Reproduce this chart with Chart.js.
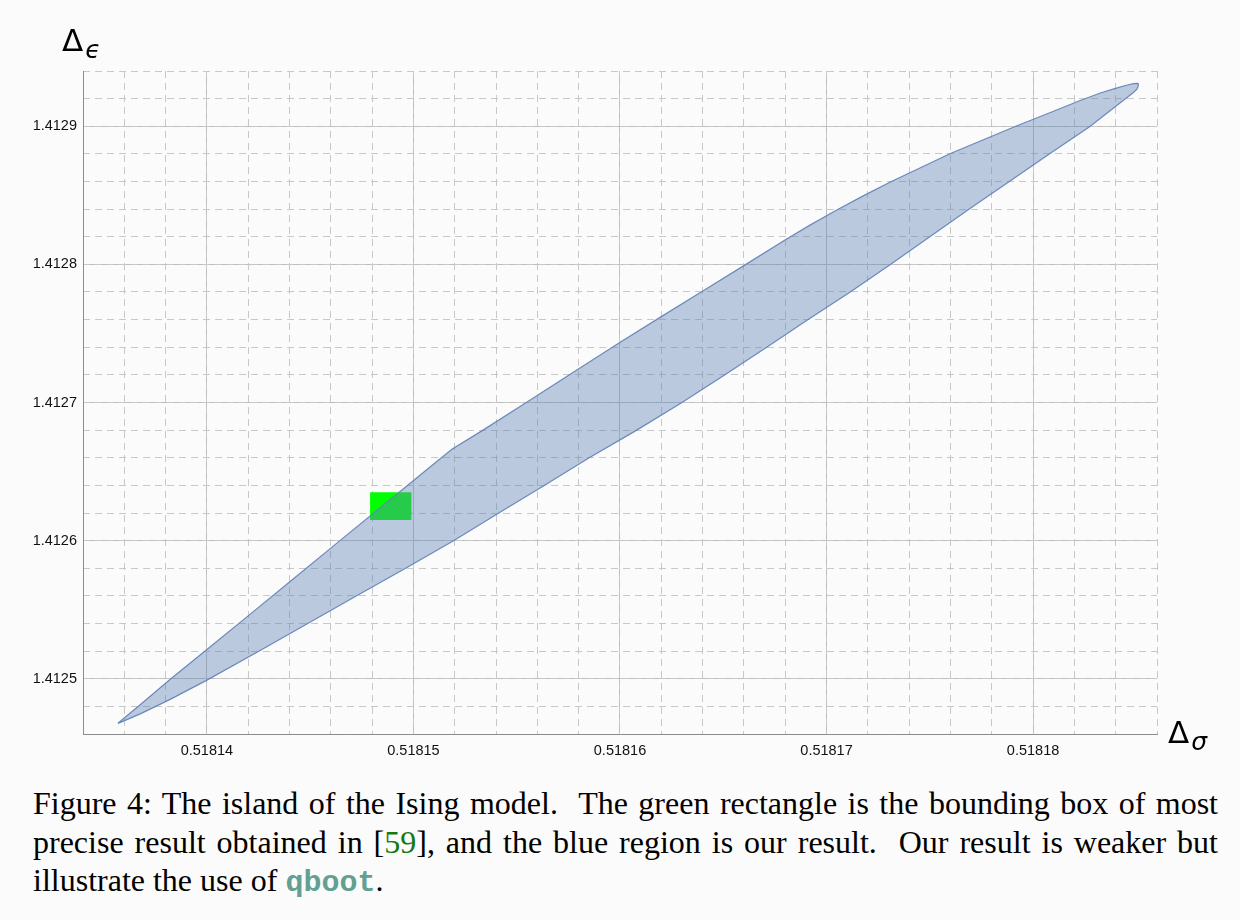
<!DOCTYPE html>
<html>
<head>
<meta charset="utf-8">
<script src="https://cdn.jsdelivr.net/npm/chart.js@4/dist/chart.umd.min.js"></script>
<style>
  html, body { margin: 0; padding: 0; background: #fbfbfb; }
  #wrap { position: relative; width: 1240px; height: 920px; overflow: hidden; }
  #plot { position: absolute; left: 0; top: 0; }
  .axtitle {
    position: absolute; font-family: "DejaVu Sans", "Open Sans", sans-serif;
    font-size: 31px; line-height: 1; color: #000; white-space: nowrap;
  }
  .axtitle .sub { font-style: italic; font-size: 25px; position: relative; top: 7px; margin-left: 2px; }
  #caption {
    position: absolute; left: 33px; top: 784px; width: 1185px;
    font-family: "Liberation Serif", "Times New Roman", serif;
    font-size: 32px; line-height: 38.7px; color: #000;
  }
  .jl { text-align: justify; text-align-last: justify; white-space: nowrap; }
  .ref { color: #137a13; }
  .code { font-family: "Liberation Mono", "Courier New", monospace; font-size: 30px; color: #62a092; font-weight: bold; }
</style>
</head>
<body>
<div id="wrap">
  <canvas id="plot" width="1240" height="770"></canvas>
  <div class="axtitle" style="left:62px; top:25px;">Δ<span class="sub">ϵ</span></div>
  <div class="axtitle" style="left:1168px; top:717px;">Δ<span class="sub">σ</span></div>
  <div id="caption">
    <div class="jl">Figure 4: The island of the Ising model.&nbsp; The green rectangle is the bounding box of most</div>
    <div class="jl">precise result obtained in [<span class="ref">59</span>], and the blue region is our result.&nbsp; Our result is weaker but</div>
    <div>illustrate the use of <span class="code">qboot</span>.</div>
  </div>
</div>
<script>
// Axis ranges and labelled ticks
const xRange = [0.518134, 0.518186];
const yRange = [1.41246, 1.41294];
const xMajorTicks = [0.51814, 0.51815, 0.51816, 0.51817, 0.51818];
const xTickLabels = ['0.51814', '0.51815', '0.51816', '0.51817', '0.51818'];
const yMajorTicks = [1.4125, 1.4126, 1.4127, 1.4128, 1.4129];
const yTickLabels = ['1.4125', '1.4126', '1.4127', '1.4128', '1.4129'];
const xMinorStep = 0.000002;
const yMinorStep = 0.00002;

// Allowed region (Δσ, Δε): upper boundary, left tip to right tip
const islandUpperX = [0.51813569, 0.51813677, 0.51813827, 0.51814000, 0.51814210, 0.51814403,
  0.51814644, 0.51814888, 0.51815033, 0.51815110, 0.51815188, 0.51815333, 0.51815537,
  0.51815793, 0.51816001, 0.51816200, 0.51816403, 0.51816602, 0.51816805, 0.51816922,
  0.51817043, 0.51817173, 0.51817309, 0.51817600, 0.51817919, 0.51818084, 0.51818219,
  0.51818326, 0.51818399, 0.51818452, 0.51818486, 0.51818508];
const islandUpperY = [1.41246773, 1.41248123, 1.41250022, 1.41252116, 1.41254679, 1.41257047,
  1.41260000, 1.41262982, 1.41264751, 1.41265690, 1.41266628, 1.41267964, 1.41269913,
  1.41272368, 1.41274368, 1.41276217, 1.41278094, 1.41279928, 1.41281819, 1.41282859,
  1.41283884, 1.41284924, 1.41285964, 1.41288022, 1.41290022, 1.41290996, 1.41291812,
  1.41292404, 1.41292744, 1.41292968, 1.41293083, 1.41293105];
// Lower boundary, right tip back to left tip
const islandLowerX = [0.51818510, 0.51818503, 0.51818486, 0.51818447, 0.51818374, 0.51818277,
  0.51818082, 0.51817885, 0.51817691, 0.51817500, 0.51817309, 0.51817113, 0.51816909,
  0.51816712, 0.51816510, 0.51816300, 0.51816081, 0.51815851, 0.51815631, 0.51815411,
  0.51815194, 0.51814964, 0.51814725, 0.51814488, 0.51814251, 0.51814000, 0.51813822,
  0.51813677, 0.51813604];
const islandLowerY = [1.41292946, 1.41292693, 1.41292440, 1.41291993, 1.41291141, 1.41290000,
  1.41288022, 1.41286000, 1.41284007, 1.41282007, 1.41279986, 1.41277986, 1.41275993,
  1.41274014, 1.41272022, 1.41270000, 1.41268000, 1.41266000, 1.41263978, 1.41261986,
  1.41259986, 1.41258014, 1.41256014, 1.41253993, 1.41251993, 1.41249899, 1.41248505,
  1.41247458, 1.41246989];

// Bounding box of the reference result
const boxX = [0.5181479, 0.5181499];
const boxY = [1.412615, 1.412635];

const islandPoints = islandUpperX.map((x, i) => ({ x, y: islandUpperY[i] }))
  .concat(islandLowerX.map((x, i) => ({ x, y: islandLowerY[i] })));
islandPoints.push({ ...islandPoints[0] });

const boxPoints = [
  { x: boxX[0], y: boxY[0] }, { x: boxX[1], y: boxY[0] },
  { x: boxX[1], y: boxY[1] }, { x: boxX[0], y: boxY[1] }, { x: boxX[0], y: boxY[0] }
];

const tickFont = { family: '"Liberation Sans", Arial, sans-serif', size: 14.5 };
const tickColor = '#111111';

new Chart(document.getElementById('plot'), {
  type: 'line',
  data: {
    datasets: [
      {
        label: 'island', data: islandPoints, order: 0, fill: 'shape',
        backgroundColor: 'rgba(94,129,181,0.41)', borderColor: 'rgba(100,132,184,0.95)',
        borderWidth: 1.2, pointRadius: 0, tension: 0, xAxisID: 'x', yAxisID: 'y'
      },
      {
        label: 'box', data: boxPoints, order: 1, fill: 'shape',
        backgroundColor: '#00ff00', borderWidth: 0, borderColor: 'rgba(0,0,0,0)',
        pointRadius: 0, tension: 0, xAxisID: 'x', yAxisID: 'y'
      }
    ]
  },
  options: {
    responsive: false, animation: false, devicePixelRatio: 1,
    layout: { padding: { left: 0, top: 71, right: 83, bottom: 0 } },
    plugins: { legend: { display: false }, tooltip: { enabled: false } },
    scales: {
      x: {
        type: 'linear', position: 'bottom', min: xRange[0], max: xRange[1],
        afterBuildTicks: s => { s.ticks = xMajorTicks.map(v => ({ value: v })); },
        afterFit: s => { s.height = 36; },
        grid: { color: '#bdbdbd', lineWidth: 1, drawTicks: false },
        border: { color: '#8c8c8c', width: 1 },
        ticks: { callback: (v, i) => xTickLabels[i], font: tickFont, color: tickColor, padding: 8, maxRotation: 0, autoSkip: false }
      },
      y: {
        type: 'linear', position: 'left', min: yRange[0], max: yRange[1],
        afterBuildTicks: s => { s.ticks = yMajorTicks.map(v => ({ value: v })); },
        afterFit: s => { s.width = 83; },
        grid: { color: '#bdbdbd', lineWidth: 1, drawTicks: false },
        border: { color: '#8c8c8c', width: 1 },
        ticks: { callback: (v, i) => yTickLabels[i], font: tickFont, color: tickColor, padding: 6, autoSkip: false }
      },
      x2: {
        type: 'linear', position: 'top', min: xRange[0], max: xRange[1],
        afterFit: s => { s.height = 0; },
        ticks: { display: false, stepSize: xMinorStep },
        grid: { color: '#c8c8c8', lineWidth: 1, drawTicks: false },
        border: { display: false, dash: [7, 5] }
      },
      y2: {
        type: 'linear', position: 'right', min: yRange[0], max: yRange[1],
        afterFit: s => { s.width = 0; },
        ticks: { display: false, stepSize: yMinorStep },
        grid: { color: '#c8c8c8', lineWidth: 1, drawTicks: false },
        border: { display: false, dash: [7, 5] }
      }
    }
  }
});
</script>
</body>
</html>
